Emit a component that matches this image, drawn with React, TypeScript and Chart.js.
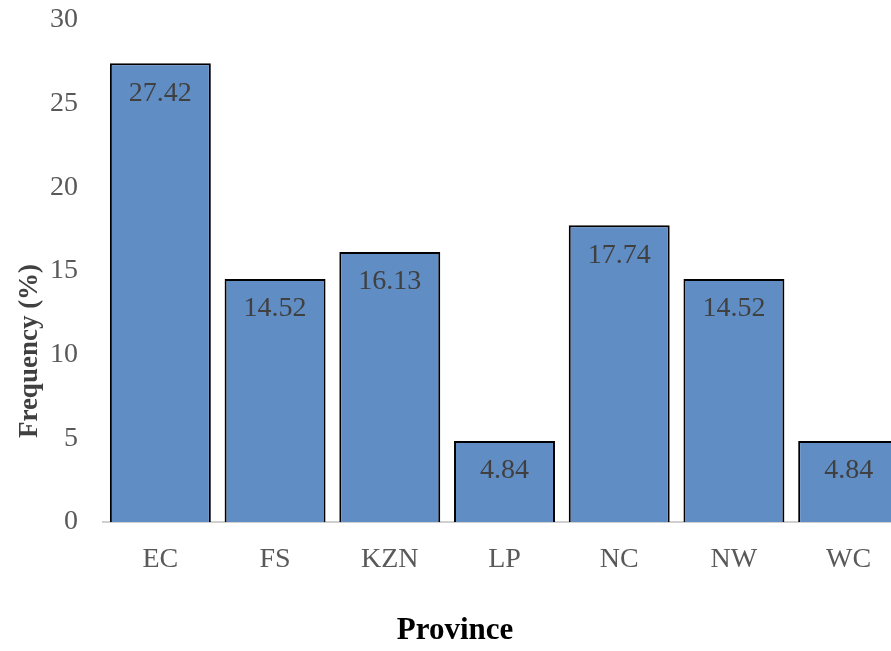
import React, { useEffect, useRef } from "react";
import { Chart, registerables } from "chart.js";

Chart.register(...registerables);

const provinces = ["EC", "FS", "KZN", "LP", "NC", "NW", "WC"];
const frequencies = [27.42, 14.52, 16.13, 4.84, 17.74, 14.52, 4.84];
const yTicks = [0, 5, 10, 15, 20, 25, 30];
const xTitle = "Province";
const yTitle = "Frequency (%)";

const SERIF = "'Liberation Serif', 'Times New Roman', serif";

// Value labels inside the top of each bar, plus the two axis titles.
const annotate = {
  id: "annotate",
  afterDatasetsDraw(chart: any) {
    const ctx = chart.ctx;
    const meta = chart.getDatasetMeta(0);
    ctx.save();
    ctx.font = `28px ${SERIF}`;
    ctx.fillStyle = "#404040";
    ctx.textAlign = "center";
    ctx.textBaseline = "middle";
    meta.data.forEach((bar: any, i: number) => {
      ctx.fillText(frequencies[i].toFixed(2), bar.x, bar.y + 30);
    });

    ctx.font = `bold 31px ${SERIF}`;
    ctx.fillStyle = "#000000";
    ctx.fillText(xTitle, chart.width / 2, 631);

    ctx.translate(30, 351);
    ctx.rotate(-Math.PI / 2);
    ctx.font = `bold 27px ${SERIF}`;
    ctx.fillStyle = "#404040";
    ctx.fillText(yTitle, 0, 0);
    ctx.restore();
  },
};

export default function App() {
  const ref = useRef<HTMLCanvasElement>(null);

  useEffect(() => {
    if (!ref.current) return;
    const chart = new Chart(ref.current, {
      type: "bar",
      data: {
        labels: provinces,
        datasets: [
          {
            data: frequencies,
            backgroundColor: "#5F8DC4",
            borderColor: "#000000",
            borderWidth: 2,
            borderSkipped: "start",
            barPercentage: 1,
            categoryPercentage: 0.88,
          },
        ],
      },
      options: {
        responsive: false,
        animation: false,
        devicePixelRatio: 1,
        layout: { padding: { top: 20, right: 4, left: 0, bottom: 0 } },
        plugins: {
          legend: { display: false },
          tooltip: { enabled: false },
        },
        scales: {
          x: {
            z: 1,
            grid: { display: false },
            border: { display: true, color: "#D0D0D0", width: 2 },
            ticks: {
              color: "#595959",
              font: { family: SERIF, size: 28 },
              padding: 13,
            },
            afterFit: (scale: any) => {
              scale.height = 129;
            },
          },
          y: {
            min: 0,
            max: 30,
            afterBuildTicks: (scale: any) => {
              scale.ticks = yTicks.map((v) => ({ value: v }));
            },
            grid: { display: false },
            border: { display: false },
            ticks: {
              color: "#595959",
              font: { family: SERIF, size: 28, lineHeight: 0.2 },
              padding: 17,
            },
            afterFit: (scale: any) => {
              scale.width = 103;
            },
          },
        },
      },
      plugins: [annotate],
    });
    return () => chart.destroy();
  }, []);

  return (
    <div
      style={{
        position: "fixed",
        left: 0,
        top: 0,
        width: 891,
        height: 651,
        overflow: "hidden",
        background: "#ffffff",
      }}
    >
      <canvas ref={ref} width={910} height={651} style={{ display: "block" }} />
    </div>
  );
}
